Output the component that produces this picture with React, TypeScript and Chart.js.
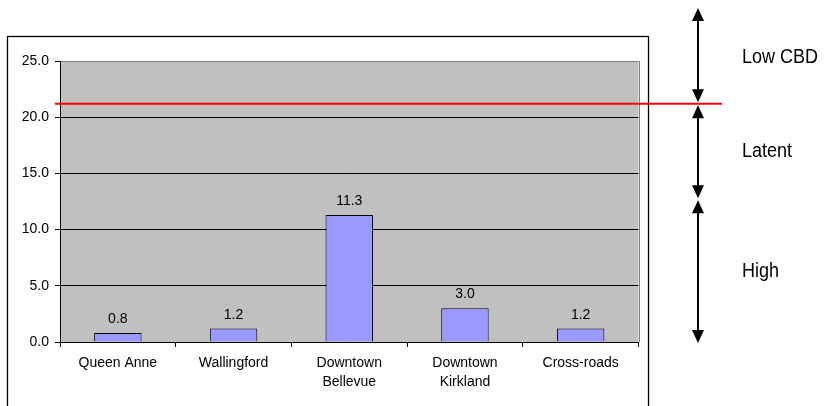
import React, { useEffect, useRef } from "react";
import { Chart, registerables } from "chart.js";

Chart.register(...registerables);

// Locations and their measured values
const categories: (string | string[])[] = [
  "Queen Anne",
  "Wallingford",
  ["Downtown", "Bellevue"],
  ["Downtown", "Kirkland"],
  "Cross-roads",
];
const values: number[] = [0.8, 1.2, 11.3, 3.0, 1.2];

// Y axis range
const yMin = 0;
const yMax = 25;
const yStep = 5;

// Band thresholds (red line separates Low CBD from Latent)
const lowCbdThreshold = 21.2;
const highThreshold = 12.7;
const bandLabels = ["Low CBD", "Latent", "High"];

const SANS = "'Liberation Sans', Arial, sans-serif";

function drawDoubleArrow(ctx: CanvasRenderingContext2D, x: number, y1: number, y2: number) {
  const headLen = 13;
  const headHalf = 6;
  ctx.save();
  ctx.strokeStyle = "#000";
  ctx.fillStyle = "#000";
  ctx.lineWidth = 2;
  ctx.beginPath();
  ctx.moveTo(x, y1 + headLen - 1);
  ctx.lineTo(x, y2 - headLen + 1);
  ctx.stroke();
  ctx.beginPath();
  ctx.moveTo(x, y1);
  ctx.lineTo(x - headHalf, y1 + headLen);
  ctx.lineTo(x + headHalf, y1 + headLen);
  ctx.closePath();
  ctx.fill();
  ctx.beginPath();
  ctx.moveTo(x, y2);
  ctx.lineTo(x - headHalf, y2 - headLen);
  ctx.lineTo(x + headHalf, y2 - headLen);
  ctx.closePath();
  ctx.fill();
  ctx.restore();
}

// condensed text: regular sans squeezed horizontally
function drawNarrowText(ctx: CanvasRenderingContext2D, text: string, x: number, y: number) {
  ctx.save();
  ctx.translate(x, y);
  ctx.scale(0.9, 1);
  ctx.font = `20px ${SANS}`;
  ctx.fillStyle = "#000";
  ctx.textAlign = "left";
  ctx.textBaseline = "alphabetic";
  ctx.fillText(text, 0, 0);
  ctx.restore();
}

const decorations = {
  id: "decorations",
  beforeDraw(chart: any) {
    const { ctx, chartArea } = chart;
    ctx.save();
    ctx.fillStyle = "#C0C0C0";
    ctx.fillRect(chartArea.left, chartArea.top, chartArea.right - chartArea.left, chartArea.bottom - chartArea.top);
    ctx.restore();
  },
  afterDraw(chart: any) {
    const { ctx, chartArea } = chart;
    const yScale = chart.scales.y;

    // right edge of plot area
    ctx.save();
    ctx.strokeStyle = "#808080";
    ctx.lineWidth = 1;
    ctx.beginPath();
    ctx.moveTo(Math.round(chartArea.right) + 0.5, chartArea.top);
    ctx.lineTo(Math.round(chartArea.right) + 0.5, chartArea.bottom);
    ctx.stroke();
    ctx.restore();

    // value labels above bars
    const meta = chart.getDatasetMeta(0);
    ctx.save();
    ctx.font = `14px ${SANS}`;
    ctx.fillStyle = "#000";
    ctx.textAlign = "center";
    ctx.textBaseline = "alphabetic";
    meta.data.forEach((bar: any, i: number) => {
      ctx.fillText(values[i].toFixed(1), bar.x, bar.y - 10);
    });
    ctx.restore();

    // outer chart frame
    ctx.save();
    ctx.strokeStyle = "#000";
    ctx.lineWidth = 1.3;
    ctx.strokeRect(7.5, 36.5, 641, 380);
    ctx.restore();

    // red threshold line
    const yRed = yScale.getPixelForValue(lowCbdThreshold);
    ctx.save();
    ctx.strokeStyle = "#FF0000";
    ctx.lineWidth = 2;
    ctx.beginPath();
    ctx.moveTo(chartArea.left - 5, yRed);
    ctx.lineTo(722, yRed);
    ctx.stroke();
    ctx.restore();

    // band arrows
    const ax = 698;
    const yHigh = yScale.getPixelForValue(highThreshold);
    const yZero = yScale.getPixelForValue(0);
    drawDoubleArrow(ctx, ax, 8, yRed - 1.5);
    drawDoubleArrow(ctx, ax, yRed + 1.5, yHigh - 1);
    drawDoubleArrow(ctx, ax, yHigh + 1, yZero + 1);

    // band labels
    drawNarrowText(ctx, bandLabels[0], 742, 63);
    drawNarrowText(ctx, bandLabels[1], 742, 157);
    drawNarrowText(ctx, bandLabels[2], 742, 276.5);
  },
};

export default function App() {
  const canvasRef = useRef<HTMLCanvasElement | null>(null);

  useEffect(() => {
    if (!canvasRef.current) return;
    const chart = new Chart(canvasRef.current, {
      type: "bar",
      data: {
        labels: categories,
        datasets: [
          {
            data: values,
            backgroundColor: "#9999FF",
            borderColor: "#000",
            borderWidth: 1,
            barPercentage: 0.41,
            categoryPercentage: 1,
          },
        ],
      },
      options: {
        responsive: true,
        maintainAspectRatio: false,
        animation: false,
        layout: { padding: { top: 61, right: 186.5, left: 0, bottom: 0 } },
        plugins: {
          legend: { display: false },
          tooltip: { enabled: false },
        },
        scales: {
          x: {
            grid: {
              offset: true,
              drawOnChartArea: false,
              drawTicks: true,
              tickLength: 5,
              tickColor: "#000",
            },
            border: { color: "#000", width: 1 },
            ticks: {
              color: "#000",
              font: { family: SANS, size: 14, lineHeight: 1.32 },
              padding: 7,
              maxRotation: 0,
              autoSkip: false,
            },
            afterFit: (scale: any) => {
              scale.height = 64;
            },
          },
          y: {
            min: yMin,
            max: yMax,
            grid: {
              color: (c: any) => (c.tick && c.tick.value === yMax ? "#808080" : "#000"),
              lineWidth: 1,
              drawTicks: true,
              tickLength: 5,
              tickColor: "#000",
            },
            border: { color: "#000", width: 1 },
            ticks: {
              stepSize: yStep,
              color: "#000",
              font: { family: SANS, size: 14 },
              padding: 6,
              callback: (v: any) => Number(v).toFixed(1),
            },
            afterFit: (scale: any) => {
              scale.width = 60;
            },
          },
        },
      },
      plugins: [decorations],
    });
    return () => chart.destroy();
  }, []);

  return (
    <div style={{ position: "absolute", left: 0, top: 0, width: 825, height: 406, background: "#fff" }}>
      <canvas ref={canvasRef} />
    </div>
  );
}
